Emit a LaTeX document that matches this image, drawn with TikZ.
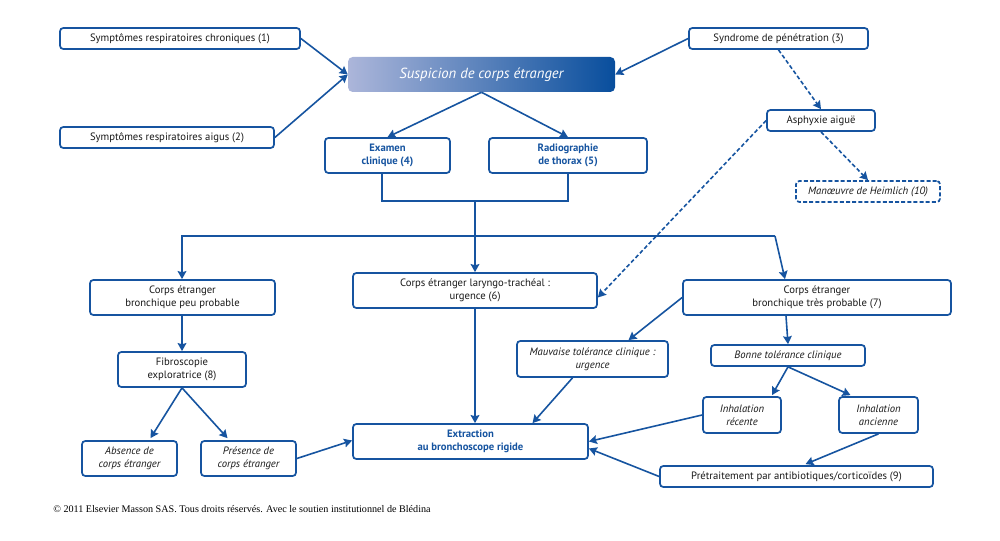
\documentclass[tikz,border=0pt]{standalone}
\usepackage{fontspec}
\setmainfont{PT Sans}
\newfontfamily\copyfont{Liberation Serif}
\usetikzlibrary{arrows.meta,calc}
\definecolor{mblue}{RGB}{22,84,160}
\definecolor{tgray}{RGB}{25,25,25}
\definecolor{gradL}{RGB}{172,182,218}
\definecolor{gradR}{RGB}{8,78,157}
\begin{document}
\begin{tikzpicture}[x=0.75pt,y=-0.75pt,
  sz/.style 2 args={minimum width=#1*0.75pt, minimum height=#2*0.75pt},
  box/.style={draw=mblue, line width=1.3pt, rounded corners=2.5pt, fill=white, inner sep=0pt,
    align=center, text=tgray, font=\fontsize{8}{9.8}\selectfont},
  ibox/.style={box, font=\fontsize{8}{9.8}\selectfont\itshape},
  bbox/.style={box, text=mblue, font=\fontsize{8}{9.8}\selectfont\bfseries},
  dbox/.style={ibox, dash pattern=on 3pt off 1.6pt},
  title/.style={rounded corners=3.5pt, inner sep=0pt, left color=gradL, right color=gradR,
    text=white, font=\fontsize{11}{13}\selectfont\itshape},
  conn/.style={draw=mblue, line width=1.2pt},
  arr/.style={conn, -{Stealth[length=6pt,width=6.5pt,inset=0.8pt]}},
  darr/.style={arr, dash pattern=on 3pt off 1.8pt},
]
\useasboundingbox (0,0) rectangle (1000,541);

% nodes
\node[box, sz={240}{21}] (s1) at (180,38.5) {Symptômes respiratoires chroniques (1)};
\node[box, sz={214}{21}] (s2) at (167,137.5) {Symptômes respiratoires aigus (2)};
\node[title, sz={267}{35}] (susp) at (481.5,74.5) {Suspicion de corps étranger};
\node[box, sz={179}{21}] (s3) at (778.5,38.5) {Syndrome de pénétration (3)};
\node[box, sz={108}{21}] (asph) at (821,120.5) {Asphyxie aiguë};
\node[dbox, sz={144}{21}] (heim) at (868,191.5) {Manœuvre de Heimlich (10)};
\node[bbox, sz={125}{35}] (exam) at (387.5,155.5) {Examen\\clinique (4)};
\node[bbox, sz={158}{35}] (radio) at (568,155.5) {Radiographie\\de thorax (5)};
\node[box, sz={185}{35}] (peu) at (182.5,297.5) {Corps étranger\\bronchique peu probable};
\node[box, sz={244}{35}] (lar) at (475,290.5) {Corps étranger laryngo-trachéal :\\urgence (6)};
\node[box, sz={268}{35}] (tres) at (817,297.5) {Corps étranger\\bronchique très probable (7)};
\node[box, sz={128}{35}] (fibro) at (182,369.5) {Fibroscopie\\exploratrice (8)};
\node[ibox, sz={95}{35}] (abs) at (129.5,458.5) {Absence de\\corps étranger};
\node[ibox, sz={95}{35}] (pres) at (248.5,458.5) {Présence de\\corps étranger};
\node[bbox, sz={235}{35}] (extr) at (470.5,441.5) {Extraction\\au bronchoscope rigide};
\node[ibox, sz={151}{36}] (mauv) at (592.5,359) {Mauvaise tolérance clinique :\\urgence};
\node[ibox, sz={154}{21}] (bonne) at (788,355.5) {Bonne tolérance clinique};
\node[ibox, sz={78}{36}] (rec) at (742,415) {Inhalation\\récente};
\node[ibox, sz={79}{36}] (anc) at (878.5,415) {Inhalation\\ancienne};
\node[box, sz={273}{21}] (pret) at (796.5,476.5) {Prétraitement par antibiotiques/corticoïdes (9)};
\node[anchor=west, inner sep=0pt, font=\copyfont\fontsize{7.6}{9}\selectfont] (copy) at (53,509)
  {© 2011 Elsevier Masson SAS. Tous droits réservés. Avec le soutien institutionnel de Blédina};

% junction coordinates
\coordinate (bl) at (382,201);
\coordinate (br) at (568,201);
\coordinate (bj) at (475,201);
\coordinate (hl) at (182,236);
\coordinate (hr) at (775,236);

% connectors
\draw[arr] (s1.east) -- (susp.west);
\draw[arr] (s2.east) -- (susp.west);
\draw[arr] (s3.west) -- (susp.east);
\draw[darr] (s3.south) -- (asph.north);
\draw[darr] (asph.south) -- (heim.north);
\draw[darr] (asph.west) -- ($(lar.east)+(0,7)$);
\draw[arr] (susp.south) -- (exam.north);
\draw[arr] (susp.south) -- (radio.north);
\draw[conn] (exam.south -| bl) -- (bl) -- (br) -- (radio.south -| br);
\draw[arr] (bj) -- (lar.north -| bj);
\draw[arr] (hr) -- (hl) -- (peu.north -| hl);
\draw[arr] (hr) -- ($(tres.north)+(-32,0)$);
\draw[arr] (peu.south -| hl) -- (fibro.north -| hl);
\draw[arr] (fibro.south) -- ($(abs.north)+(21,-2)$);
\draw[arr] (fibro.south) -- ($(pres.north)+(-21,-2)$);
\draw[arr] (pres.east) -- ($(extr.west)+(0,-1)$);
\draw[arr] (lar.south -| bj) -- (extr.north -| bj);
\draw[arr] (tres.west) -- ($(mauv.north)+(36,0)$);
\draw[arr] ($(mauv.south)+(-20,0)$) -- ($(extr.north)+(62,0)$);
\draw[arr] ($(tres.south)+(-31,0)$) -- (bonne.north);
\draw[arr] (bonne.south) -- ($(rec.north)+(30,-1)$);
\draw[arr] (bonne.south) -- ($(anc.north)+(-28,-1)$);
\draw[arr] (anc.south) -- ($(pret.north)+(9,-1)$);
\draw[arr] (rec.west) -- (extr.east);
\draw[arr] (pret.west) -- ($(extr.east)+(0,7)$);
\end{tikzpicture}
\end{document}
